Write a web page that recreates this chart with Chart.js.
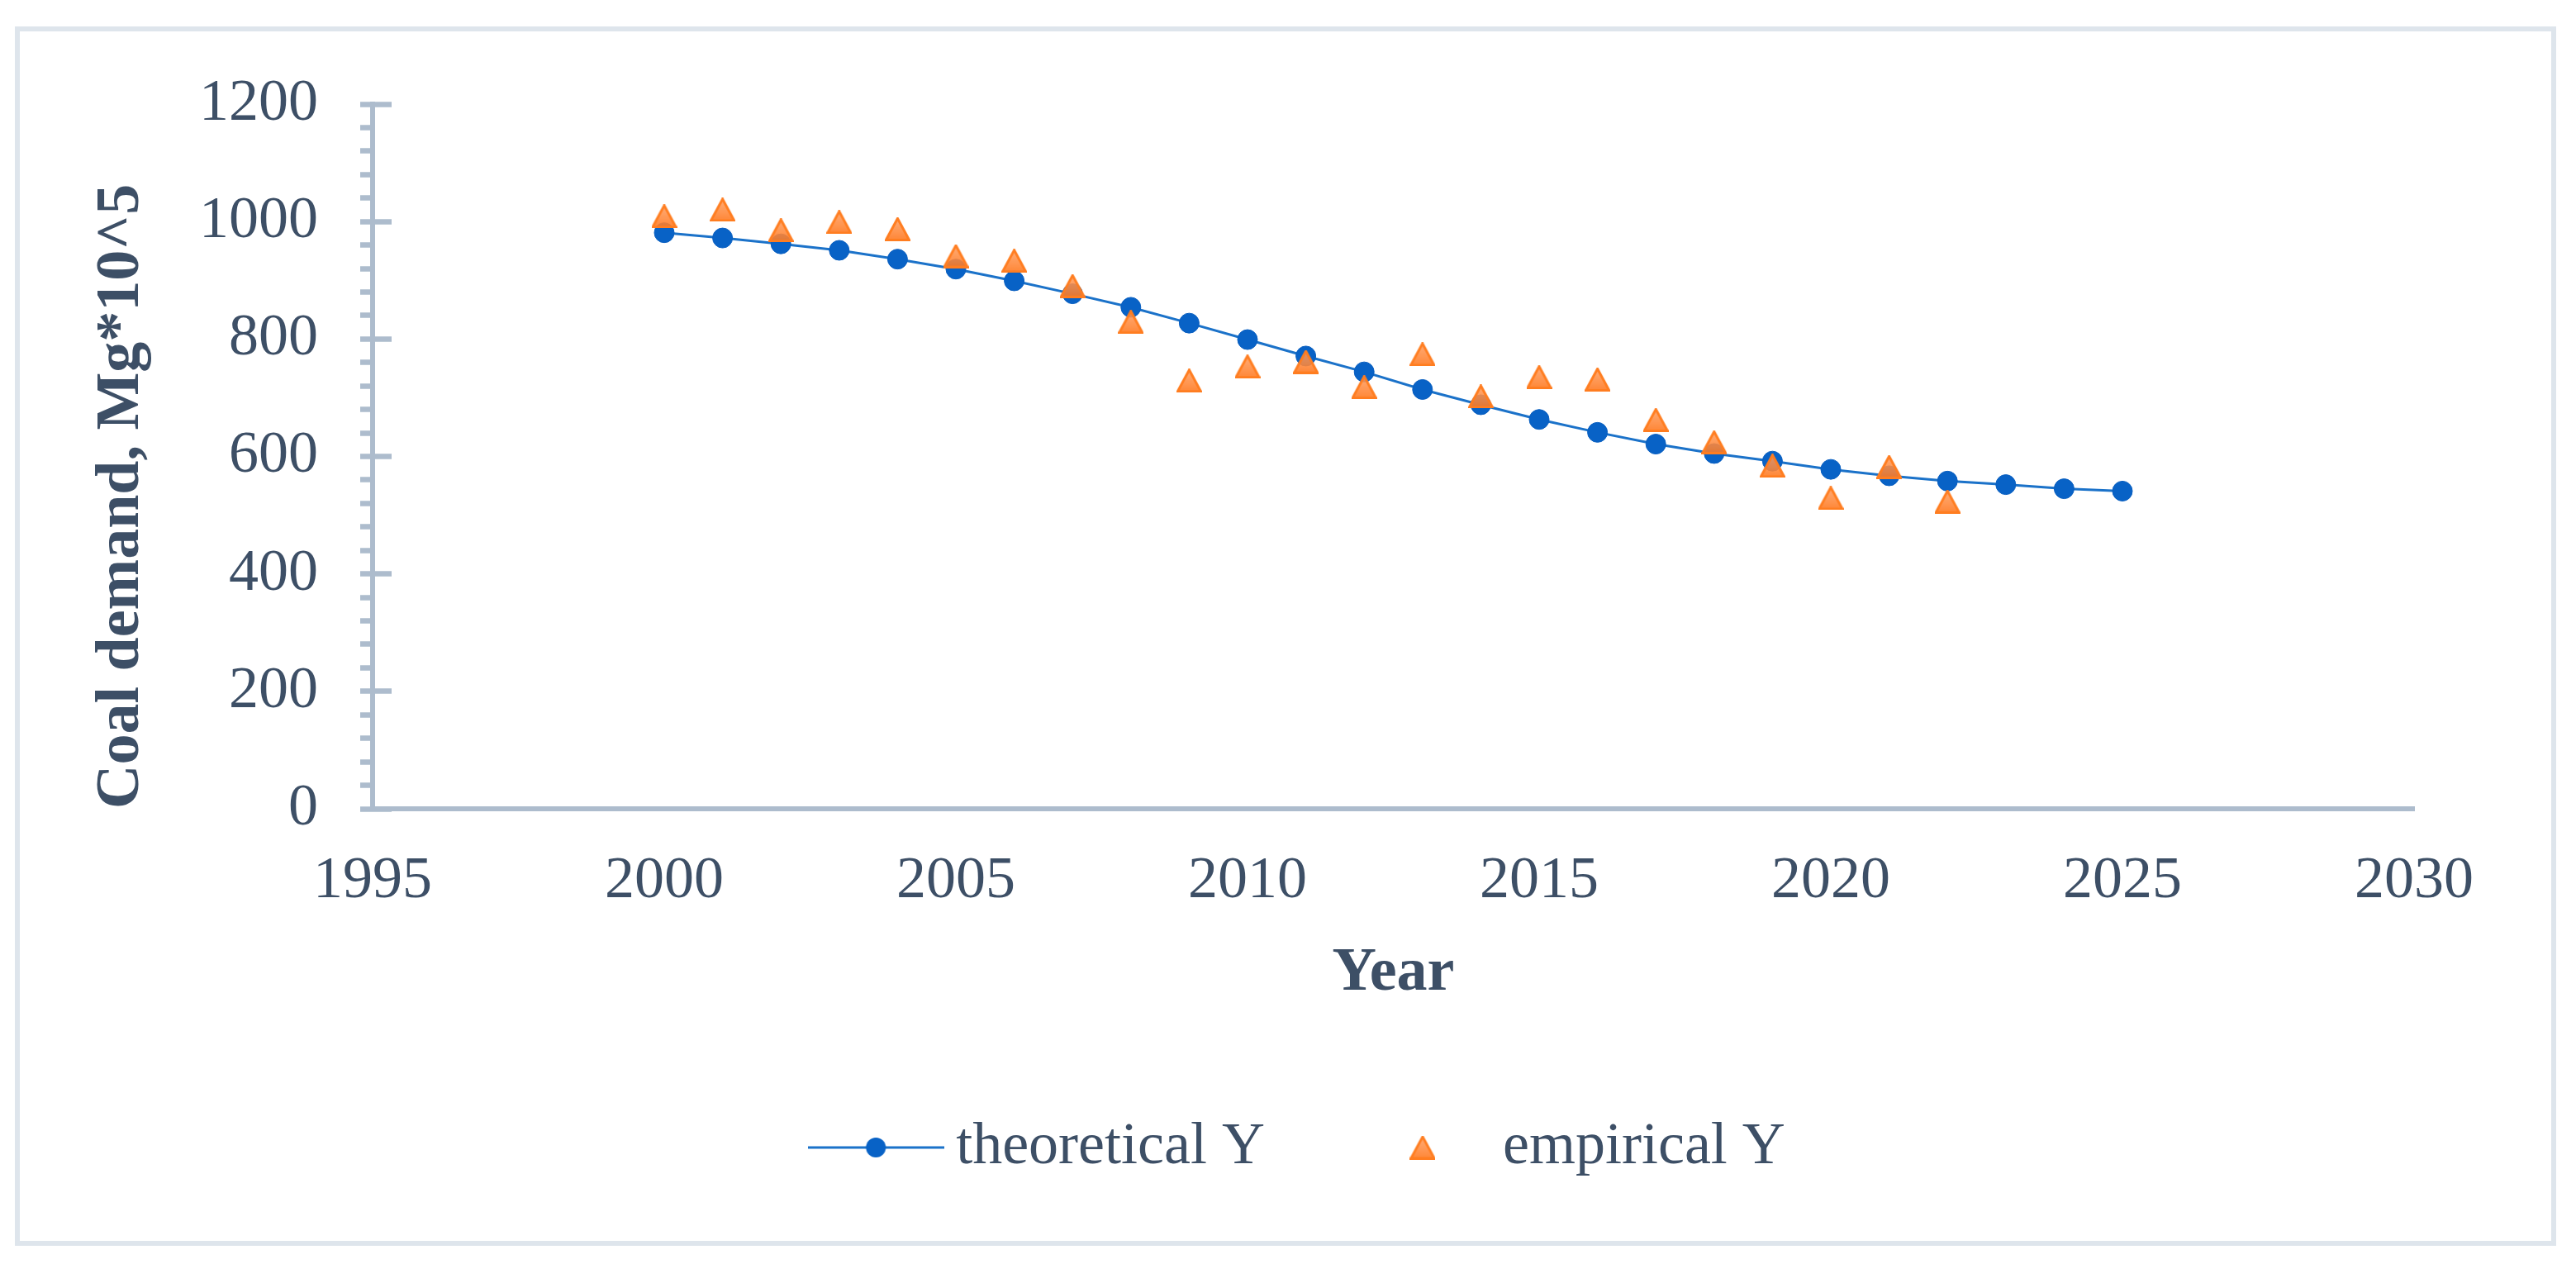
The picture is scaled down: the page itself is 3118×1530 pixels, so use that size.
<!DOCTYPE html>
<html>
<head>
<meta charset="utf-8">
<script src="https://cdn.jsdelivr.net/npm/chart.js@4.4.1/dist/chart.umd.min.js"></script>
<style>
html,body{margin:0;padding:0;background:#ffffff;}
#wrap{position:relative;width:3118px;height:1530px;}
</style>
</head>
<body>
<div id="wrap"><canvas id="c"></canvas></div>
<script>
// ---- data ----
const theoreticalYears = [2000,2001,2002,2003,2004,2005,2006,2007,2008,2009,2010,2011,2012,2013,2014,2015,2016,2017,2018,2019,2020,2021,2022,2023,2024,2025];
const theoreticalY = [981,972,962,951,936,919,899,877,854,827,799,771,744,714,688,663,641,621,605,592,578,567,558,552,545,541];
const empiricalYears = [2000,2001,2002,2003,2004,2005,2006,2007,2008,2009,2010,2011,2012,2013,2014,2015,2016,2017,2018,2019,2020,2021,2022];
const empiricalY = [1009,1020,985,999,987,941,933,890,829,729,753,761,718,774,702,735,731,662,624,584,529,582,523];
const xTickLabels = [1995,2000,2005,2010,2015,2020,2025,2030];
const yTickLabels = [0,200,400,600,800,1000,1200];
const seriesNames = ['theoretical Y','empirical Y'];
const yTitle = 'Coal demand, Mg*10^5';
const xTitle = 'Year';

// ---- styles ----
const textColor = '#3d4f66';
const axisColor = '#adbccd';
const lineColor = '#1b72c9';
const FONT = 'Liberation Serif';

function triangleImage() {
  const c = document.createElement('canvas');
  c.width = 31; c.height = 29;
  const g = c.getContext('2d');
  const grad = g.createLinearGradient(0, 0, 0, 29);
  grad.addColorStop(0, 'rgba(255,160,100,0.85)');
  grad.addColorStop(1, 'rgba(255,120,30,0.9)');
  g.beginPath();
  g.moveTo(15.5, 1.5); g.lineTo(29.5, 27.5); g.lineTo(1.5, 27.5); g.closePath();
  g.fillStyle = grad; g.fill();
  g.lineWidth = 3; g.lineJoin = 'miter'; g.strokeStyle = '#ff7d20'; g.stroke();
  return c;
}
function circleLineImage() {
  const c = document.createElement('canvas');
  c.width = 165; c.height = 28;
  const g = c.getContext('2d');
  g.beginPath(); g.moveTo(0, 14); g.lineTo(165, 14);
  g.lineWidth = 3; g.strokeStyle = lineColor; g.stroke();
  g.beginPath(); g.arc(82.5, 14, 12, 0, Math.PI * 2);
  g.fillStyle = '#0862c6'; g.fill();
  return c;
}
const triImg = triangleImage();
const legendLineImg = circleLineImage();

const borderPlugin = {
  id: 'outerBorder',
  beforeDraw(chart) {
    const ctx = chart.ctx;
    ctx.save();
    ctx.strokeStyle = '#dee5ec';
    ctx.lineWidth = 6;
    ctx.strokeRect(21, 35, 3070, 1470);
    ctx.restore();
  }
};

new Chart(document.getElementById('c'), {
  type: 'line',
  data: {
    datasets: [
      {
        label: seriesNames[0],
        data: theoreticalYears.map((x, i) => ({x: x, y: theoreticalY[i]})),
        borderColor: lineColor,
        borderWidth: 3,
        backgroundColor: '#0862c6',
        pointBackgroundColor: '#0862c6',
        pointBorderColor: '#0a5fc0',
        pointBorderWidth: 1,
        pointRadius: 12,
        pointStyle: 'circle',
        tension: 0,
        fill: false,
        order: 1
      },
      {
        label: seriesNames[1],
        data: empiricalYears.map((x, i) => ({x: x, y: empiricalY[i]})),
        showLine: false,
        pointStyle: triImg,
        pointRadius: 15,
        backgroundColor: '#ff8a3a',
        borderColor: '#ff7d20',
        order: 0
      }
    ]
  },
  options: {
    responsive: true,
    maintainAspectRatio: false,
    animation: false,
    layout: { padding: { left: 42, top: 126, right: 0, bottom: 95 } },
    plugins: {
      tooltip: { enabled: false },
      legend: {
        position: 'bottom',
        align: 'center',
        labels: {
          usePointStyle: true,
          pointStyleWidth: 122,
          padding: 130,
          color: textColor,
          font: { family: FONT, size: 72 },
          generateLabels: () => [
            { text: seriesNames[0], pointStyle: legendLineImg, fillStyle: 'rgba(0,0,0,0)', strokeStyle: 'rgba(0,0,0,0)', lineWidth: 0, hidden: false, datasetIndex: 0, fontColor: textColor },
            { text: seriesNames[1], pointStyle: triImg, fillStyle: 'rgba(0,0,0,0)', strokeStyle: 'rgba(0,0,0,0)', lineWidth: 0, hidden: false, datasetIndex: 1, fontColor: textColor }
          ]
        }
      }
    },
    scales: {
      x: {
        type: 'linear',
        position: 'bottom',
        min: xTickLabels[0],
        max: xTickLabels[xTickLabels.length - 1],
        afterBuildTicks: s => { s.ticks = xTickLabels.map(v => ({ value: v })); },
        afterFit: s => { s.height = 244; },
        grid: { display: false, drawTicks: false },
        border: { display: true, color: axisColor, width: 6 },
        ticks: {
          autoSkip: false, maxRotation: 0, padding: 45,
          color: textColor, font: { family: FONT, size: 72 },
          callback: v => String(v)
        },
        title: {
          display: true, text: xTitle, color: textColor,
          font: { family: FONT, size: 74, weight: 'bold' },
          padding: { top: 0, bottom: 0 }
        }
      },
      y: {
        type: 'linear',
        position: 'left',
        min: 0,
        max: yTickLabels[yTickLabels.length - 1],
        afterBuildTicks: s => {
          const t = [];
          for (let v = 0; v <= 1200; v += 40) t.push({ value: v });
          s.ticks = t;
        },
        afterFit: s => { s.width = 409; },
        grid: { display: true, drawOnChartArea: false, drawTicks: true, tickLength: 15, tickWidth: 6.5, tickColor: axisColor },
        border: { display: true, color: axisColor, width: 6 },
        ticks: {
          autoSkip: false, padding: 51,
          color: textColor, font: { family: FONT, size: 72 },
          callback: v => (yTickLabels.includes(v) ? String(v) : '')
        },
        title: {
          display: true, text: yTitle, color: textColor, align: 'start',
          font: { family: FONT, size: 74, weight: 'bold' },
          padding: { top: 61, bottom: 0 }
        }
      },
      yIn: {
        type: 'linear',
        axis: 'y',
        position: { x: 1995.326 },
        min: 0,
        max: 1200,
        afterBuildTicks: s => { s.ticks = yTickLabels.map(v => ({ value: v })); },
        grid: { display: true, drawOnChartArea: false, drawTicks: true, tickLength: 26, tickWidth: 6.5, tickColor: axisColor },
        border: { display: false },
        ticks: { display: false }
      },
      yR: {
        type: 'linear',
        position: 'right',
        display: true,
        afterFit: s => { s.width = 196; },
        grid: { display: false, drawTicks: false },
        border: { display: false },
        ticks: { display: false }
      }
    }
  },
  plugins: [borderPlugin]
});
</script>
</body>
</html>
